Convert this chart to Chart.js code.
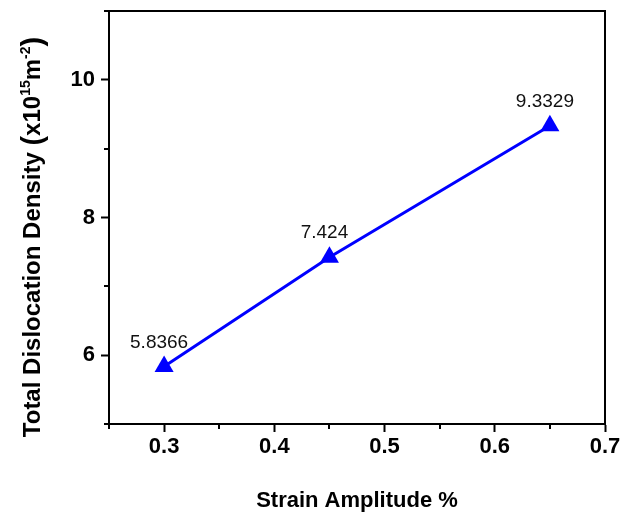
<!DOCTYPE html>
<html>
<head>
<meta charset="utf-8">
<script src="https://cdn.jsdelivr.net/npm/chart.js@4"></script>
<style>
    html, body { margin: 0; padding: 0; background: #fff; }
    canvas { display: block; }
</style>
</head>
<body>
<canvas id="chart" width="623" height="516"></canvas>
<script>
const strainAmplitude = [0.3, 0.45, 0.65];
const dislocationDensity = [5.8366, 7.424, 9.3329];
const pointLabels = ['5.8366', '7.424', '9.3329'];
const xTickValues = [0.3, 0.4, 0.5, 0.6, 0.7];
const xMinorTicks = [0.25, 0.35, 0.45, 0.55, 0.65];
const yTickValues = [6, 8, 10];
const yMinorTicks = [5, 7, 9, 11];

const fontFamily = '"Liberation Sans", Arial, sans-serif';

// frame, minor ticks, point labels and axis titles
const decorations = {
    id: 'decorations',
    afterDraw: function (chart) {
        const ctx = chart.ctx;
        const area = chart.chartArea;
        const xScale = chart.scales.x;
        const yScale = chart.scales.y;

        ctx.save();
        ctx.strokeStyle = '#000';
        ctx.lineWidth = 2;
        ctx.beginPath();
        ctx.moveTo(area.left, area.top);
        ctx.lineTo(area.right, area.top);
        ctx.lineTo(area.right, area.bottom);
        ctx.stroke();

        ctx.beginPath();
        xMinorTicks.forEach(function (v) {
            const px = Math.round(xScale.getPixelForValue(v));
            ctx.moveTo(px, area.bottom);
            ctx.lineTo(px, area.bottom + 5);
        });
        yMinorTicks.forEach(function (v) {
            const py = Math.round(yScale.getPixelForValue(v));
            ctx.moveTo(area.left - 5, py);
            ctx.lineTo(area.left, py);
        });
        ctx.stroke();

        // value labels above each point
        ctx.fillStyle = '#111';
        ctx.font = '19px ' + fontFamily;
        ctx.textAlign = 'center';
        ctx.textBaseline = 'middle';
        strainAmplitude.forEach(function (x, i) {
            const px = xScale.getPixelForValue(x);
            const py = yScale.getPixelForValue(dislocationDensity[i]);
            ctx.fillText(pointLabels[i], px - 5, py - 24);
        });

        // x title
        ctx.fillStyle = '#000';
        ctx.font = 'bold 22px ' + fontFamily;
        ctx.textBaseline = 'alphabetic';
        ctx.fillText('Strain Amplitude %', 357, 507);

        // y title with superscripts
        const parts = [
            { t: 'Total Dislocation Density ', f: 'bold 24px', dy: 0 },
            { t: '(', f: 'bold 29px', dy: 2 },
            { t: 'x10', f: 'bold 24px', dy: 0 },
            { t: '15', f: 'bold 14px', dy: -10 },
            { t: 'm', f: 'bold 24px', dy: 0 },
            { t: '-2', f: 'bold 14px', dy: -10 },
            { t: ')', f: 'bold 29px', dy: 2 }
        ];
        let total = 0;
        parts.forEach(function (p) {
            ctx.font = p.f + ' ' + fontFamily;
            p.w = ctx.measureText(p.t).width;
            total += p.w;
        });
        ctx.translate(40, 237);
        ctx.rotate(-Math.PI / 2);
        ctx.textAlign = 'left';
        let cx = -total / 2;
        parts.forEach(function (p) {
            ctx.font = p.f + ' ' + fontFamily;
            ctx.fillText(p.t, cx, p.dy);
            cx += p.w;
        });
        ctx.restore();
    }
};

const tickFont = { family: fontFamily, size: 22, weight: 'bold' };

new Chart(document.getElementById('chart'), {
    type: 'scatter',
    data: {
        datasets: [{
            data: strainAmplitude.map(function (x, i) {
                return { x: x, y: dislocationDensity[i] };
            }),
            showLine: true,
            borderColor: '#0000ff',
            borderWidth: 3,
            backgroundColor: '#0000ff',
            pointStyle: 'triangle',
            pointRadius: 11,
            pointBorderWidth: 0,
            tension: 0
        }]
    },
    options: {
        responsive: false,
        animation: false,
        devicePixelRatio: 1,
        layout: {
            padding: { left: 0, right: 18, top: 10, bottom: 0 }
        },
        plugins: {
            legend: { display: false },
            tooltip: { enabled: false }
        },
        scales: {
            x: {
                type: 'linear',
                min: 0.25,
                max: 0.7,
                afterBuildTicks: function (scale) {
                    scale.ticks = xTickValues.map(function (v) { return { value: v }; });
                },
                afterFit: function (scale) {
                    scale.height = 92;
                },
                ticks: {
                    font: tickFont,
                    color: '#000',
                    padding: 2,
                    maxRotation: 0,
                    callback: function (value) {
                        return Number(value).toFixed(1);
                    }
                },
                grid: {
                    drawOnChartArea: false,
                    tickLength: 8,
                    tickWidth: 2,
                    tickColor: '#000'
                },
                border: { color: '#000', width: 2 }
            },
            y: {
                type: 'linear',
                min: 5,
                max: 11,
                afterBuildTicks: function (scale) {
                    scale.ticks = yTickValues.map(function (v) { return { value: v }; });
                },
                afterFit: function (scale) {
                    scale.width = 109;
                    scale.paddingTop = 0;
                    scale.paddingBottom = 0;
                },
                ticks: {
                    font: tickFont,
                    color: '#000',
                    padding: 6
                },
                grid: {
                    drawOnChartArea: false,
                    tickLength: 8,
                    tickWidth: 2,
                    tickColor: '#000'
                },
                border: { color: '#000', width: 2 }
            }
        }
    },
    plugins: [decorations]
});
</script>
</body>
</html>
